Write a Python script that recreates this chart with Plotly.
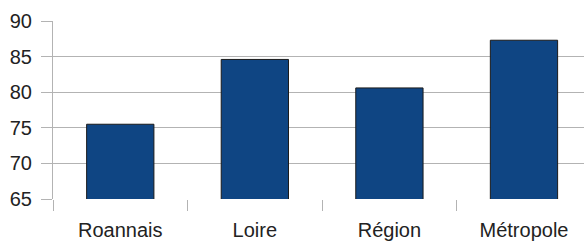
import plotly.graph_objects as go

categories = ["Roannais", "Loire", "Région", "Métropole"]
values = [75.5, 84.6, 80.6, 87.3]
y_ticks = [65, 70, 75, 80, 85, 90]

fig = go.Figure(
    go.Bar(
        x=categories,
        y=values,
        marker=dict(color="#0f4583", line=dict(color="#1a1a1a", width=1)),
        width=0.5,
    )
)

fig.update_layout(
    width=584,
    height=241,
    margin=dict(l=53, r=0, t=21, b=42),
    paper_bgcolor="white",
    plot_bgcolor="white",
    showlegend=False,
    font=dict(family="Liberation Sans, Arial, sans-serif", size=20, color="#222222"),
)

fig.update_xaxes(
    range=[-0.5, 3.446],
    showgrid=False,
    ticks="outside",
    tickson="boundaries",
    ticklen=11,
    tickcolor="#b3b3b3",
    tickwidth=1,
    ticklabelstandoff=17,
    showline=False,
    zeroline=False,
    automargin=False,
)

fig.update_yaxes(
    range=[65, 90],
    tickvals=y_ticks,
    showgrid=True,
    gridcolor="#b3b3b3",
    gridwidth=1,
    ticks="outside",
    ticklen=11,
    tickcolor="#b3b3b3",
    tickwidth=1,
    showline=True,
    linecolor="#b3b3b3",
    linewidth=1,
    ticklabelstandoff=5,
    zeroline=False,
    automargin=False,
)

fig.write_html(
    "out.html",
    config={"displayModeBar": False},
    post_script="document.body.style.margin='0';document.body.style.overflow='hidden';",
)
